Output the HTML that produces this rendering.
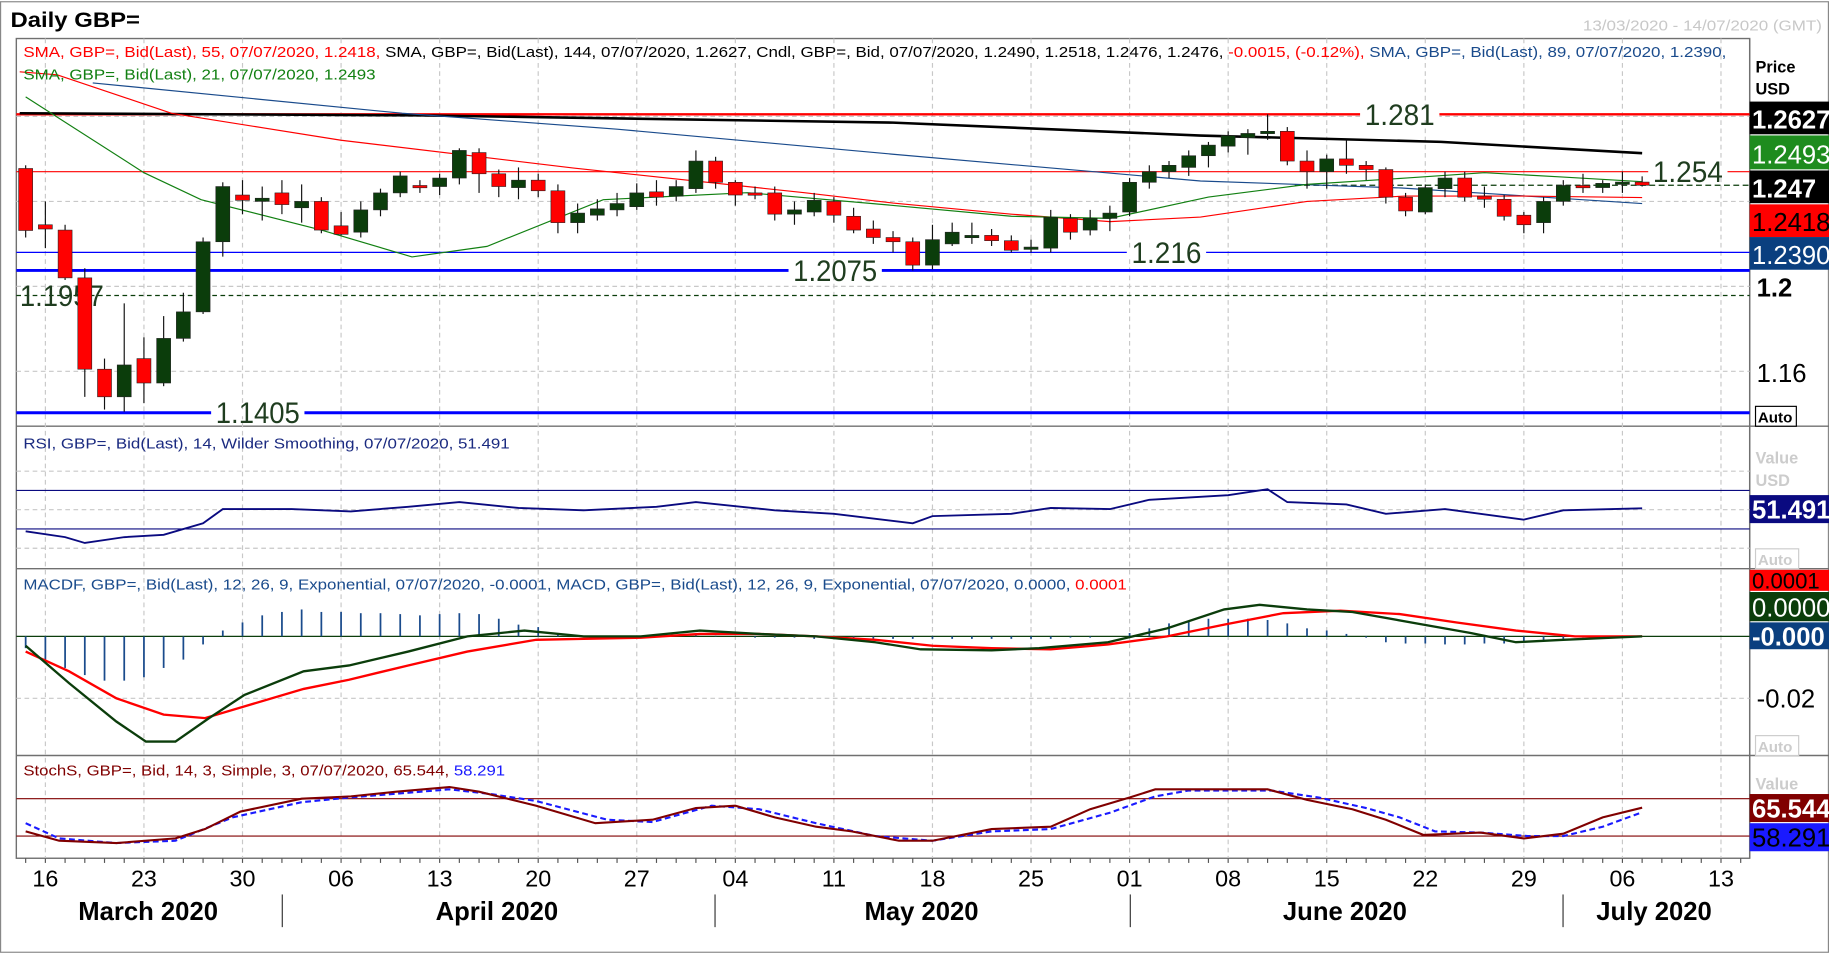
<!DOCTYPE html>
<html><head><meta charset="utf-8"><style>
html,body{margin:0;padding:0;background:#fff;}
svg{display:block;font-family:"Liberation Sans",sans-serif;}
</style></head><body>
<svg id="c" width="1829" height="954" viewBox="0 0 1568 817" preserveAspectRatio="none" xmlns="http://www.w3.org/2000/svg">
<rect x="0" y="0" width="1568" height="817" fill="#fff"/>
<rect x="0.5" y="1.5" width="1567" height="814" fill="none" stroke="#888" stroke-width="1"/>
<text x="9" y="23" font-size="18" font-weight="bold" textLength="111" lengthAdjust="spacingAndGlyphs">Daily GBP=</text>
<text x="1562" y="26" font-size="13" fill="#c8c8c8" text-anchor="end" textLength="205" lengthAdjust="spacingAndGlyphs">13/03/2020 - 14/07/2020 (GMT)</text>
<g id="frame" stroke="#707070" stroke-width="1.2" fill="none">
<rect x="14" y="33" width="1486" height="702"/>
<line x1="14" y1="365" x2="1568" y2="365"/>
<line x1="14" y1="487" x2="1568" y2="487"/>
<line x1="14" y1="647" x2="1568" y2="647"/>
<line x1="1500" y1="33" x2="1500" y2="735"/>
</g>
<g id="grid"></g>
<g id="levels"></g>
<g id="price"></g>
<g id="rsi"></g>
<g id="macd"></g>
<g id="stoch"></g>
<g id="xaxis"></g>
<!-- legends -->
<text x="20" y="49" font-size="13" textLength="1460" lengthAdjust="spacingAndGlyphs"><tspan fill="#ff0000">SMA, GBP=, Bid(Last),  55, 07/07/2020, 1.2418, </tspan><tspan fill="#000">SMA, GBP=, Bid(Last),  144, 07/07/2020, 1.2627, Cndl, GBP=, Bid, 07/07/2020, 1.2490, 1.2518, 1.2476, 1.2476, </tspan><tspan fill="#ff0000">-0.0015, (-0.12%), </tspan><tspan fill="#1a4b8c">SMA, GBP=, Bid(Last),  89, 07/07/2020, 1.2390,</tspan></text>
<text x="20" y="68" font-size="13" fill="#128012" textLength="302" lengthAdjust="spacingAndGlyphs">SMA, GBP=, Bid(Last),  21, 07/07/2020, 1.2493</text>
<text x="20" y="384" font-size="13" fill="#1a2a80" textLength="417" lengthAdjust="spacingAndGlyphs">RSI, GBP=, Bid(Last),  14, Wilder Smoothing, 07/07/2020, 51.491</text>
<text x="20" y="505" font-size="13" textLength="946" lengthAdjust="spacingAndGlyphs"><tspan fill="#1a4b8c">MACDF, GBP=, Bid(Last),  12, 26, 9, Exponential, 07/07/2020, -0.0001, MACD, GBP=, Bid(Last),  12, 26, 9, Exponential, 07/07/2020, 0.0000, </tspan><tspan fill="#ff0000">0.0001</tspan></text>
<text x="20" y="664" font-size="13" textLength="413" lengthAdjust="spacingAndGlyphs"><tspan fill="#800000">StochS, GBP=, Bid,  14, 3, Simple, 3, 07/07/2020, 65.544, </tspan><tspan fill="#1a1aff">58.291</tspan></text>
<!-- right axis -->
<g id="raxis" font-size="22">
<text x="1505" y="62" font-size="14" font-weight="bold">Price</text>
<text x="1505" y="81" font-size="14" font-weight="bold">USD</text>
<rect x="1500" y="87" width="68" height="28" fill="#000"/><text x="1502" y="110" fill="#fff" font-weight="bold">1.2627</text>
<rect x="1500" y="116" width="68" height="29" fill="#1e8c1e"/><text x="1502" y="140" fill="#fff">1.2493</text>
<rect x="1500" y="146" width="68" height="28" fill="#000"/><text x="1502" y="169" fill="#fff" font-weight="bold">1.247</text>
<rect x="1500" y="175" width="68" height="28" fill="#ff0000"/><text x="1502" y="198" fill="#000">1.2418</text>
<rect x="1500" y="203" width="68" height="28" fill="#0a3f7f"/><text x="1502" y="226" fill="#fff">1.2390</text>
<text x="1506" y="254" font-weight="bold">1.2</text>
<text x="1506" y="327">1.16</text>
<rect x="1505" y="348" width="35" height="17" fill="#fff" stroke="#000"/><text x="1507" y="362" font-size="13" font-weight="bold">Auto</text>
<text x="1505" y="397" font-size="14" font-weight="bold" fill="#ccc">Value</text>
<text x="1505" y="416" font-size="14" font-weight="bold" fill="#ccc">USD</text>
<rect x="1500" y="424" width="68" height="24" fill="#0a0a80"/><text x="1502" y="444" fill="#fff" font-weight="bold">51.491</text>
<rect x="1505" y="470" width="37" height="17" fill="#fff" stroke="#ccc"/><text x="1507" y="484" font-size="13" font-weight="bold" fill="#ccc">Auto</text>
<rect x="1500" y="488" width="68" height="18" fill="#ff0000"/><text x="1502" y="504" fill="#000" font-size="19">0.0001</text>
<rect x="1500" y="507" width="68" height="25" fill="#0b3d0b"/><text x="1502" y="528" fill="#fff">0.0000</text>
<rect x="1500" y="533" width="68" height="23" fill="#0a3f7f"/><text x="1502" y="553" fill="#fff" font-weight="bold">-0.000</text>
<text x="1506" y="606">-0.02</text>
<rect x="1505" y="630" width="37" height="17" fill="#fff" stroke="#ccc"/><text x="1507" y="644" font-size="13" font-weight="bold" fill="#ccc">Auto</text>
<text x="1505" y="676" font-size="14" font-weight="bold" fill="#ccc">Value</text>
<rect x="1500" y="680" width="68" height="24" fill="#800000"/><text x="1502" y="700" fill="#fff" font-weight="bold">65.544</text>
<rect x="1500" y="705" width="68" height="24" fill="#1a1aff"/><text x="1502" y="725" fill="#000">58.291</text>
</g>
</svg>
<script>
// ---------- DATA ----------
const opens  = [1.2555,1.2290,1.2265,1.2040,1.1610,1.1480,1.1660,1.1545,1.1755,1.1880,1.2210,1.2430,1.2400,1.2440,1.2370,1.2400,1.2285,1.2255,1.2360,1.2440,1.2475,1.2470,1.2510,1.2630,1.2530,1.2465,1.2500,1.2450,1.2300,1.2335,1.2360,1.2375,1.2445,1.2425,1.2460,1.2590,1.2490,1.2440,1.2440,1.2340,1.2350,1.2400,1.2330,1.2270,1.2230,1.2210,1.2100,1.2200,1.2230,1.2240,1.2215,1.2175,1.2180,1.2320,1.2265,1.2320,1.2350,1.2490,1.2540,1.2560,1.2615,1.2660,1.2700,1.2720,1.2730,1.2590,1.2540,1.2600,1.2570,1.2550,1.2420,1.2350,1.2460,1.2510,1.2425,1.2410,1.2335,1.2300,1.2400,1.2475,1.2465,1.2480,1.2491];
const closes = [1.2263,1.2270,1.2040,1.1610,1.1480,1.1630,1.1545,1.1755,1.1880,1.2210,1.2470,1.2405,1.2415,1.2385,1.2400,1.2265,1.2245,1.2360,1.2440,1.2520,1.2465,1.2510,1.2640,1.2530,1.2470,1.2500,1.2450,1.2300,1.2345,1.2365,1.2390,1.2440,1.2420,1.2470,1.2590,1.2490,1.2430,1.2430,1.2340,1.2360,1.2405,1.2335,1.2265,1.2230,1.2210,1.2100,1.2220,1.2255,1.2240,1.2215,1.2170,1.2185,1.2325,1.2255,1.2320,1.2345,1.2490,1.2540,1.2570,1.2615,1.2665,1.2710,1.2720,1.2730,1.2590,1.2540,1.2600,1.2570,1.2550,1.2420,1.2355,1.2465,1.2510,1.2420,1.2410,1.2330,1.2290,1.2400,1.2475,1.2465,1.2485,1.2491,1.2476];
const highs  = [1.2570,1.2400,1.2290,1.2085,1.1660,1.1920,1.1760,1.1860,1.1970,1.2230,1.2490,1.2500,1.2470,1.2500,1.2480,1.2420,1.2350,1.2400,1.2460,1.2540,1.2500,1.2530,1.2650,1.2650,1.2550,1.2560,1.2530,1.2480,1.2390,1.2410,1.2440,1.2485,1.2500,1.2500,1.2640,1.2610,1.2500,1.2470,1.2470,1.2400,1.2440,1.2420,1.2370,1.2310,1.2260,1.2230,1.2290,1.2300,1.2300,1.2270,1.2240,1.2220,1.2360,1.2340,1.2360,1.2380,1.2510,1.2570,1.2590,1.2640,1.2680,1.2730,1.2740,1.2810,1.2750,1.2640,1.2620,1.2690,1.2590,1.2560,1.2440,1.2480,1.2540,1.2540,1.2470,1.2430,1.2350,1.2420,1.2500,1.2530,1.2500,1.2540,1.2518];
const lows   = [1.2230,1.2180,1.2030,1.1480,1.1420,1.1410,1.1450,1.1530,1.1740,1.1870,1.2140,1.2340,1.2310,1.2340,1.2300,1.2250,1.2240,1.2230,1.2330,1.2420,1.2440,1.2430,1.2480,1.2440,1.2420,1.2410,1.2420,1.2250,1.2250,1.2310,1.2330,1.2360,1.2380,1.2400,1.2440,1.2460,1.2380,1.2410,1.2310,1.2290,1.2330,1.2300,1.2250,1.2200,1.2160,1.2075,1.2080,1.2190,1.2200,1.2190,1.2160,1.2160,1.2160,1.2220,1.2240,1.2260,1.2330,1.2460,1.2510,1.2520,1.2560,1.2630,1.2620,1.2690,1.2570,1.2460,1.2460,1.2530,1.2500,1.2390,1.2330,1.2340,1.2420,1.2400,1.2370,1.2310,1.2250,1.2250,1.2380,1.2440,1.2440,1.2440,1.2470];

const sma21Idx = [0,6,8.9,15,19.6,23.4,29.3,36.6,44,50,55,60,65,70,74,78,82];
const sma21Val = [1.2892,1.2535,1.2408,1.2265,1.2139,1.2188,1.2408,1.2441,1.2381,1.2330,1.2320,1.2420,1.2480,1.2510,1.2535,1.2515,1.2493];
const sma55Idx = [-0.3,1.6,7.4,16,27.8,39.5,44,50,55,59.6,65,70,76,82];
const sma55Val = [1.3010,1.2996,1.2815,1.2688,1.2557,1.2441,1.2392,1.2340,1.2305,1.2326,1.2400,1.2425,1.2425,1.2418];
const sma89Idx = [3.4,19.1,30,44,59.6,69.8,82];
const sma89Val = [1.2958,1.2815,1.2740,1.2622,1.2496,1.2463,1.2390];
const sma144Idx = [-0.3,20,44,59.6,71.8,82];
const sma144Val = [1.2815,1.2805,1.2771,1.2710,1.2680,1.2627];

const levelValues = [1.281,1.254,1.216,1.2075,1.1957,1.1405];
const levelLabels = ["1.281","1.254","1.216","1.2075","1.1957","1.1405"];

const rsiIdx = [0,2,3,5,7,9,10,13.5,16.5,19.4,22,25,28.3,32,34,38,41,45,46,50,52,55,57,61,63,64,67,69,72,76,78,82];
const rsiVal = [27.6,21.5,15.5,21.5,23.9,36,50.6,50.6,48.2,53,57.9,51.8,49.4,53,57.9,49.4,45.8,36,43.3,45.8,51.8,50.6,60.3,65,71.2,57.9,55.5,45.8,50.6,39.7,49.4,51.5];

// MACD values in units of 0.0001
const macdHist = [-38,-75,-102,-125,-143,-143,-132,-102,-75,-26,19,45,68,79,87,79,79,75,75,72,68,72,75,72,57,38,30,11,4,0,0,0,0,2,4,2,0,-4,-4,-4,-8,-8,-8,-8,-8,-8,-8,-8,-8,-8,-8,-8,-8,-4,-4,0,11,26,42,49,57,57,57,53,42,26,19,8,-4,-19,-23,-23,-26,-26,-23,-23,-15,-11,-8,-4,0,0,0];
const macdIdx = [0,2.2,4.6,6.1,7.6,9.3,11.1,14.1,16.4,19.4,22.4,25.3,28.3,31.2,34.2,37.2,40.1,43.1,45.4,49,51.4,54.9,57.9,60.8,62.6,65,67.3,70.9,73.3,75.6,78,82];
const macdVal = [-30,-151,-275,-340,-340,-264,-189,-113,-94,-49,0,19,0,0,19,8,0,-19,-42,-45,-38,-19,26,87,102,87,79,38,11,-19,-11,0];
const signalIdx = [0,2.2,4.6,7,9.1,11.1,14.1,16.4,19.4,22.4,25.9,28.3,31.2,34.2,37.2,40.1,43.1,46,49,52,54.9,57.9,60.8,63.8,66.7,69.7,72.6,75.6,78.6,82];
const signalVal = [-49,-113,-200,-253,-264,-226,-170,-140,-94,-49,-11,-8,-4,8,8,0,-11,-30,-38,-42,-26,0,38,75,83,72,45,19,0,0];

const stochKIdx = [0,1.7,4.6,7.6,9.1,10.9,14,16.5,18.8,21.5,23,25.9,28.9,31.8,34,36,38,40.1,41.9,44.3,46,49,52,54,56,57.3,59,63,65,67.3,69,70.9,73.8,76,78,80,82];
const stochKVal = [27.5,12.5,8.8,16.3,31.3,59.4,80,83.8,91.3,98.8,91.3,68.8,40.6,46.3,65,68.8,50,35,27.5,12.5,12.5,31.3,35,63.1,81.9,95,95,95,78.1,63.1,46.3,21.9,25.6,16.3,23.8,50,65.5];
const stochDIdx = [0,1.7,4.6,7.6,10.5,14,16.4,21.5,23.6,25.9,29.5,31.8,34.8,37.2,40.1,43.1,46,49,52,55,57.3,59,63.2,65.6,68,69.7,71.5,73.8,76.2,78,80,82];
const stochDVal = [40.6,16.3,8.8,12.5,50,74.4,81.9,95,87.5,76.3,46.3,42.5,68.8,63.1,40.6,20,12.5,27.5,31.3,57.5,83.8,93.1,93.1,81.9,65,50,27.5,25.6,20,20,35,58.3];

const dayLabels = ["16","23","30","06","13","20","27","04","11","18","25","01","08","15","22","29","06","13"];
const dayIdx = [1,6,11,16,21,26,31,36,41,46,51,56,61,66,71,76,81,86];
const monthLabels = ["March 2020","April 2020","May 2020","June 2020","July 2020"];
const monthCenter = [127,426,790,1153,1418];
const monthSeps = [242,613,969,1340];

// ---------- SCALES ----------
const X = i => 22 + 16.9*i;
const PY = p => 318 - (p-1.16)*1819;
const RY = v => 453 - (v-30)*0.825;
const MY = v => 545 - v*0.265;
const SY = v => 716 - (v-20)*0.533;
const NS = "http://www.w3.org/2000/svg";
function mk(parent, tag, attrs){const e=document.createElementNS(NS,tag);for(const k in attrs)e.setAttribute(k,attrs[k]);parent.appendChild(e);return e;}
const g = id => document.getElementById(id);

// grid
const grid = g('grid');
dayIdx.forEach(i=>{
  const ln = mk(grid,'line',{x1:X(i),x2:X(i),y1:33,y2:735,stroke:'#c8c8c8','stroke-dasharray':'4,3'});
  
  
});
[1.16,1.2,1.24,1.28].forEach(p=>{
  const ln = mk(grid,'line',{x1:14,x2:1500,y1:PY(p),y2:PY(p),stroke:'#c8c8c8','stroke-dasharray':'4,3'});
  
  
});
[50,10,90].forEach(v=>{
  const y=RY(v); if(y<367||y>485) return;
  const ln = mk(grid,'line',{x1:14,x2:1500,y1:y,y2:y,stroke:'#c8c8c8','stroke-dasharray':'4,3'});
  
  
});
{const ln = mk(grid,'line',{x1:14,x2:1500,y1:MY(-200),y2:MY(-200),stroke:'#c8c8c8','stroke-dasharray':'4,3'});

}

// levels
const lv = g('levels');
const levelStyle = [
 {c:'#ff0000',w:2,tx:1170,dash:''},
 {c:'#ff0000',w:1,tx:1417,dash:''},
 {c:'#0000ff',w:1,tx:970,dash:''},
 {c:'#0000ff',w:2.5,tx:680,dash:''},
 {c:'#0b3d0b',w:1,tx:17,dash:'4,3'},
 {c:'#0000ff',w:2.5,tx:185,dash:''}];
levelValues.forEach((p,k)=>{
  const s=levelStyle[k], y=PY(p);
  const ln = mk(lv,'line',{x1:14,x2:1500,y1:y,y2:y,stroke:s.c,'stroke-width':s.w});
  if(s.dash) ln.setAttribute('stroke-dasharray',s.dash);
  
  
  const w = levelLabels[k].length*12;
  if(k!==4) mk(lv,'rect',{x:s.tx-4,y:y-3,width:w+8,height:6,fill:'#fff'});
  const t = mk(lv,'text',{x:s.tx,y:y+9,'font-size':25,fill:'#1f3d1f',textLength:w,lengthAdjust:'spacingAndGlyphs'});
  t.textContent = levelLabels[k];
  
  
});
{const ln = mk(lv,'line',{x1:1110,x2:1500,y1:PY(1.2476),y2:PY(1.2476),stroke:'#0b3d0b','stroke-dasharray':'5,3'});

}

// price series
const pr = g('price');
function poly(parent, idx, vals, fy, attrs, name){
  const pts = idx.map((i,k)=>X(i).toFixed(1)+','+fy(vals[k]).toFixed(1)).join(' ');
  const e = mk(parent,'polyline',Object.assign({points:pts,fill:'none'},attrs));
  
  
  return e;
}
poly(pr,sma144Idx,sma144Val,PY,{stroke:'#000','stroke-width':2.2},'sma-144-line');
poly(pr,sma89Idx,sma89Val,PY,{stroke:'#1a4b8c','stroke-width':1},'sma-89-line');
poly(pr,sma55Idx,sma55Val,PY,{stroke:'#ff0000','stroke-width':1},'sma-55-line');
poly(pr,sma21Idx,sma21Val,PY,{stroke:'#128012','stroke-width':1},'sma-21-line');
opens.forEach((o,i)=>{
  const c=closes[i], up=c>=o, x=X(i);
  const w = mk(pr,'line',{x1:x,x2:x,y1:PY(highs[i]),y2:PY(lows[i]),stroke:'#111','stroke-width':1});
  
  
  const top=PY(Math.max(o,c)), bot=PY(Math.min(o,c));
  const r = mk(pr,'rect',{x:x-6,y:top,width:12,height:Math.max(2,bot-top),fill:up?'#0b3d0b':'#ff0000',stroke:'#222','stroke-width':0.5});
  
  
});

// RSI
const rs = g('rsi');
[70,30].forEach(v=>{const ln=mk(rs,'line',{x1:14,x2:1500,y1:RY(v),y2:RY(v),stroke:'#0a0a80','stroke-width':1});

});
poly(rs,rsiIdx,rsiVal,RY,{stroke:'#0a0a80','stroke-width':1.6},'rsi-line');

// MACD
const mc = g('macd');
{const ln=mk(mc,'line',{x1:14,x2:1500,y1:MY(0),y2:MY(0),stroke:'#0b3d0b','stroke-width':1});

}
macdHist.forEach((v,i)=>{
  if(v===0) return;
  const b=mk(mc,'line',{x1:X(i),x2:X(i),y1:MY(0),y2:MY(v),stroke:'#1a4b8c','stroke-width':1.5});
  
  
});
poly(mc,signalIdx,signalVal,MY,{stroke:'#ff0000','stroke-width':2},'macd-signal-line');
poly(mc,macdIdx,macdVal,MY,{stroke:'#0b3d0b','stroke-width':2},'macd-line');

// Stoch
const st = g('stoch');
[80,20].forEach(v=>{const ln=mk(st,'line',{x1:14,x2:1500,y1:SY(v),y2:SY(v),stroke:'#800000','stroke-width':1});

});
poly(st,stochDIdx,stochDVal,SY,{stroke:'#1a1aff','stroke-width':1.8,'stroke-dasharray':'5,3'},'stoch-d-line');
poly(st,stochKIdx,stochKVal,SY,{stroke:'#800000','stroke-width':1.8},'stoch-k-line');

// x axis
const xa = g('xaxis');
for(let i=0;i<88;i++){const tk=mk(xa,'line',{x1:X(i),x2:X(i),y1:735,y2:739,stroke:'#555'});

}
dayLabels.forEach((d,k)=>{
  const t=mk(xa,'text',{x:X(dayIdx[k]),y:759,'font-size':20,'text-anchor':'middle'});
  t.textContent=d;
  
  
});
monthLabels.forEach((m,k)=>{
  const t=mk(xa,'text',{x:monthCenter[k],y:788,'font-size':22,'font-weight':'bold','text-anchor':'middle'});
  t.textContent=m;
  
  
});
monthSeps.forEach(x=>{const ln=mk(xa,'line',{x1:x,x2:x,y1:766,y2:794,stroke:'#333'});

});
</script>
</body></html>
